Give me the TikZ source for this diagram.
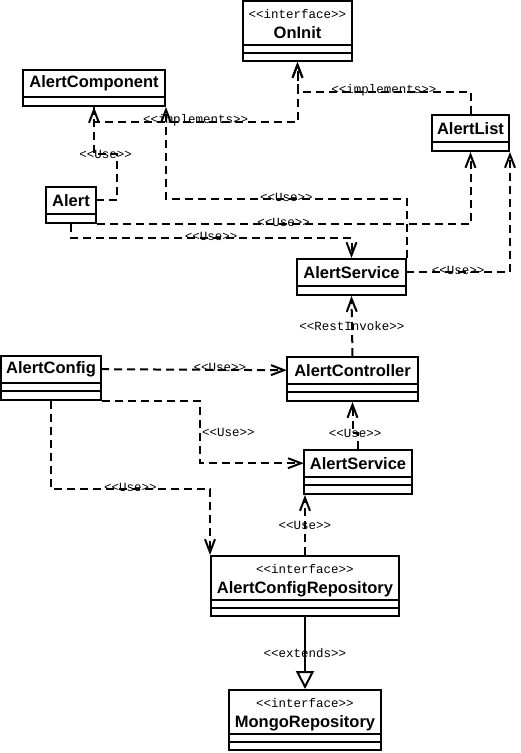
\documentclass[tikz,border=0pt]{standalone}
\usepackage{fontspec}
\setsansfont{Liberation Sans}
\setmonofont{Liberation Mono}
\usetikzlibrary{arrows.meta,positioning}

\newcommand{\stereofont}{\ttfamily\mdseries\fontsize{12.5}{14}\selectfont}

\tikzset{
  classbox/.style={draw, line width=2pt, inner sep=0pt},
  classhead/.style={inner sep=0pt, align=center, font=\sffamily\bfseries\fontsize{16.5}{18}\selectfont},
  comprule/.style={line width=2pt},
  stereo/.style={font=\stereofont, inner sep=1pt},
  usedep/.style={line width=2pt, dash pattern=on 8pt off 5pt, -{Straight Barb[length=13pt,width=10pt]}},
  impldep/.style={usedep},
  extline/.style={line width=2pt, -{Triangle[length=18pt,width=18pt,fill=white]}},
}

\begin{document}
\begin{tikzpicture}[x=1pt, y=-1pt]
\useasboundingbox (0,0) rectangle (521,753);

% OnInit
\node[classbox, minimum width=109, minimum height=60] (oninit) at (297.5,31) {};
\node[classhead, below=9pt of oninit.north] (oninit-h) {{\stereofont <<interface>>}\\[2pt]OnInit};
\draw[comprule] ([yshift=17pt]oninit.south west) -- ([yshift=17pt]oninit.south east);
\draw[comprule] ([yshift=9pt]oninit.south west) -- ([yshift=9pt]oninit.south east);

% AlertComponent
\node[classbox, minimum width=142, minimum height=36] (comp) at (94,88) {};
\node[classhead, minimum width=142, minimum height=28, below=0pt of comp.north] (comp-h) {AlertComponent};
\draw[comprule] (comp-h.south west) -- (comp-h.south east);

% AlertList
\node[classbox, minimum width=77, minimum height=36] (alist) at (470.5,133) {};
\node[classhead, minimum width=77, minimum height=28, below=0pt of alist.north] (alist-h) {AlertList};
\draw[comprule] (alist-h.south west) -- (alist-h.south east);

% Alert
\node[classbox, minimum width=50, minimum height=36] (alert) at (71,205) {};
\node[classhead, minimum width=50, minimum height=28, below=0pt of alert.north] (alert-h) {Alert};
\draw[comprule] (alert-h.south west) -- (alert-h.south east);

% AlertService (client)
\node[classbox, minimum width=109, minimum height=36] (srv1) at (351.5,277) {};
\node[classhead, minimum width=109, minimum height=28, below=0pt of srv1.north] (srv1-h) {AlertService};
\draw[comprule] (srv1-h.south west) -- (srv1-h.south east);

% AlertController
\node[classbox, minimum width=131, minimum height=44] (ctrl) at (352.5,379) {};
\node[classhead, minimum width=131, minimum height=28, below=0pt of ctrl.north] (ctrl-h) {AlertController};
\draw[comprule] (ctrl-h.south west) -- (ctrl-h.south east);
\draw[comprule] ([yshift=-8pt]ctrl-h.south west) -- ([yshift=-8pt]ctrl-h.south east);

% AlertConfig
\node[classbox, minimum width=100, minimum height=44] (cfg) at (51,378) {};
\node[classhead, minimum width=100, minimum height=28, below=0pt of cfg.north] (cfg-h) {AlertConfig};
\draw[comprule] (cfg-h.south west) -- (cfg-h.south east);
\draw[comprule] ([yshift=-8pt]cfg-h.south west) -- ([yshift=-8pt]cfg-h.south east);

% AlertService (server)
\node[classbox, minimum width=108, minimum height=44] (srv2) at (358,472) {};
\node[classhead, minimum width=108, minimum height=28, below=0pt of srv2.north] (srv2-h) {AlertService};
\draw[comprule] (srv2-h.south west) -- (srv2-h.south east);
\draw[comprule] ([yshift=-8pt]srv2-h.south west) -- ([yshift=-8pt]srv2-h.south east);

% AlertConfigRepository
\node[classbox, minimum width=188, minimum height=60] (acr) at (305,586) {};
\node[classhead, below=9pt of acr.north] (acr-h) {{\stereofont <<interface>>}\\[2pt]AlertConfigRepository};
\draw[comprule] ([yshift=17pt]acr.south west) -- ([yshift=17pt]acr.south east);
\draw[comprule] ([yshift=9pt]acr.south west) -- ([yshift=9pt]acr.south east);

% MongoRepository
\node[classbox, minimum width=152, minimum height=60] (mongo) at (305,720) {};
\node[classhead, below=9pt of mongo.north] (mongo-h) {{\stereofont <<interface>>}\\[2pt]MongoRepository};
\draw[comprule] ([yshift=17pt]mongo.south west) -- ([yshift=17pt]mongo.south east);
\draw[comprule] ([yshift=9pt]mongo.south west) -- ([yshift=9pt]mongo.south east);

% implements
\draw[impldep] (comp.south) -- ++(0,15) -| node[stereo, pos=0.25, yshift=2pt] (l-impl1) {<<implements>>} (oninit.south);
\draw[impldep] (alist.north) -- ++(0,-22) -| node[stereo, pos=0.25, yshift=2pt] (l-impl2) {<<implements>>} (oninit.south);

% Use (front end)
\draw[usedep] (alert-h.east) -- ++(21,0) -- ++(0,-46) -| node[stereo, pos=0.25] (l-use1) {<<Use>>} (comp.south);
\draw[usedep] (srv1.north east) -- ++(0,-59) -| node[stereo, pos=0.25, yshift=2pt] (l-use2) {<<Use>>} (comp.south east);
\draw[usedep] (alert.south east) -| node[stereo, pos=0.25, yshift=2pt] (l-use3) {<<Use>>} (alist.south);
\draw[usedep] (alert.south) -- ++(0,14) -| node[stereo, pos=0.25, yshift=2pt] (l-use4) {<<Use>>} (srv1.north);
\draw[usedep] (srv1-h.east) -| node[stereo, pos=0.25, yshift=2pt] (l-use5) {<<Use>>} (alist.south east);

% RestInvoke
\draw[usedep] (ctrl.north) -- node[stereo] (l-rest) {<<RestInvoke>>} (srv1.south);

% Use (back end)
\draw[usedep] (cfg-h.east) -- node[stereo, pos=0.64, yshift=2pt] (l-use6) {<<Use>>} (ctrl-h.west);
\draw[usedep] (cfg.south east) -- ++(98,0) |- node[stereo, pos=0.25, right] (l-use7) {<<Use>>} (srv2-h.west);
\draw[usedep] (cfg.south) -- ++(0,88) -| node[stereo, pos=0.25, yshift=2pt] (l-use8) {<<Use>>} (acr.north west);
\draw[usedep] (acr.north) -- node[stereo] (l-use9) {<<Use>>} (acr.north |- srv2.south);
\draw[usedep] (srv2.north) -- ++(0,-16) -| node[stereo, pos=0.25] (l-use10) {<<Use>>} (ctrl.south);

% extends
\draw[extline] (acr.south) -- node[stereo] (l-ext) {<<extends>>} (mongo.north);
\end{tikzpicture}
\end{document}
